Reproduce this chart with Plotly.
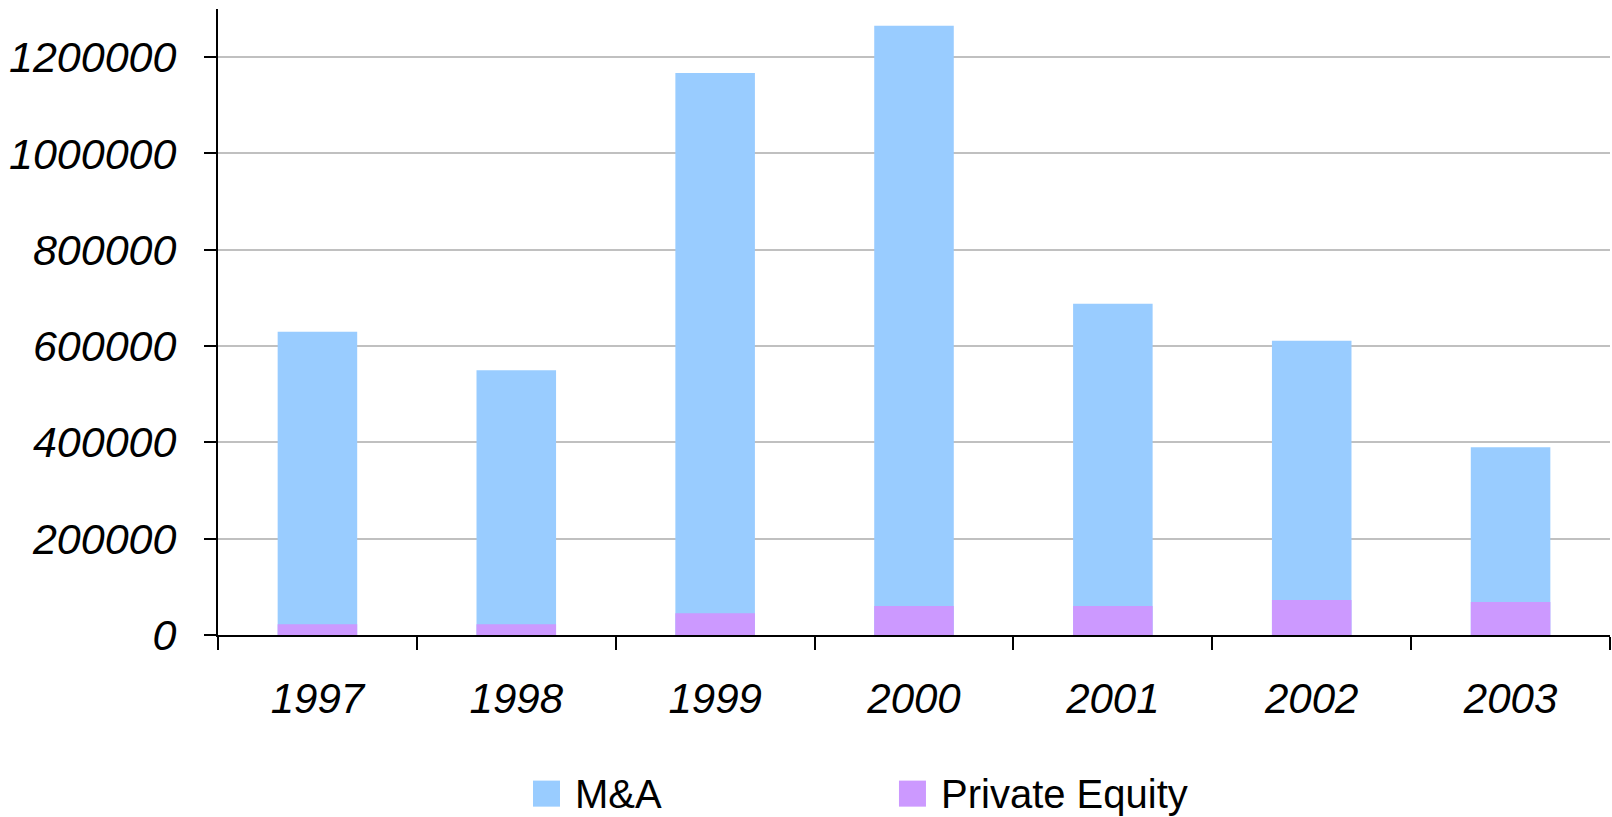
import plotly.graph_objects as go

years = ["1997", "1998", "1999", "2000", "2001", "2002", "2003"]
ma_values = [630000, 550000, 1167000, 1265000, 688000, 611000, 390000]
pe_values = [22500, 22500, 45000, 60000, 60000, 72500, 68500]
series_names = ["M&A", "Private Equity"]
series_colors = ["#99CCFF", "#CC99FF"]
y_ticks = [0, 200000, 400000, 600000, 800000, 1000000, 1200000]

FONT = "Liberation Sans, Arial, sans-serif"

fig = go.Figure()
fig.add_trace(go.Bar(x=years, y=ma_values, name=series_names[0],
                     marker=dict(color=series_colors[0], line=dict(width=0)),
                     width=0.4, showlegend=False))
fig.add_trace(go.Bar(x=years, y=pe_values, name=series_names[1],
                     marker=dict(color=series_colors[1], line=dict(width=0)),
                     width=0.4, showlegend=False))

fig.update_layout(
    width=1612, height=817,
    barmode="overlay",
    paper_bgcolor="white", plot_bgcolor="white",
    margin=dict(l=218, r=2, t=9, b=182),
    font=dict(family=FONT, color="black"),
)

fig.update_xaxes(
    type="category",
    showline=True, linecolor="black", linewidth=2,
    ticks="outside", ticklen=13, tickwidth=2, tickcolor="black",
    tickson="boundaries",
    tickfont=dict(family=FONT, size=42, style="italic", color="black"),
    ticklabelstandoff=26,
    showgrid=False,
)
fig.update_yaxes(
    range=[0, 1300000],
    tickvals=y_ticks,
    ticktext=[str(v) for v in y_ticks],
    showline=True, linecolor="black", linewidth=2,
    ticks="outside", ticklen=12, tickwidth=2, tickcolor="black",
    tickfont=dict(family=FONT, size=43, style="italic", color="black"),
    ticklabelstandoff=19,
    showgrid=True, gridcolor="#C0C0C0", gridwidth=2,
    zeroline=False,
)

# Legend (manual, to match large square swatches)
legend_x = [0.2263, 0.4892]
sw = 27 / 1392
for name, color, x0 in zip(series_names, series_colors, legend_x):
    fig.add_shape(type="rect", xref="paper", yref="paper",
                  x0=x0, x1=x0 + sw, y0=-0.2742, y1=-0.2326,
                  fillcolor=color, line=dict(width=0))
    fig.add_annotation(xref="paper", yref="paper", x=x0 + sw + 13 / 1392, y=-0.2534,
                       text=name, showarrow=False, xanchor="left", yanchor="middle",
                       font=dict(family=FONT, size=40, color="black"))

fig.write_html("out.html",
               config={"displayModeBar": False},
               post_script="document.body.style.margin='0px';document.body.style.overflow='hidden';")
